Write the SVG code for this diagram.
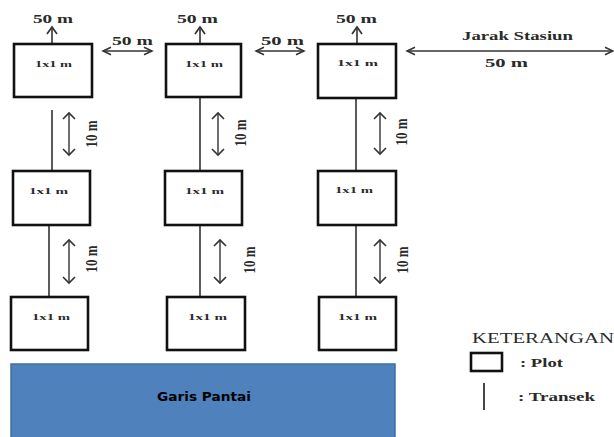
<svg xmlns="http://www.w3.org/2000/svg" width="614" height="437" viewBox="0 0 614 437">
<style>
.plot{fill:#fff;stroke:#111;stroke-width:2.6}
.lbl{font-family:"Liberation Serif",serif;font-size:9px;font-weight:bold;fill:#2a2a2a;text-anchor:start}
.dim{font-family:"Liberation Serif",serif;font-size:13px;font-weight:bold;fill:#2a2a2a}
.ln{stroke:#333;stroke-width:1.6;fill:none}
.arrh{stroke:#333;stroke-width:1.4;fill:none;marker-start:url(#ah);marker-end:url(#ah)}
.arrv{stroke:#333;stroke-width:1.4;fill:none;marker-start:url(#av);marker-end:url(#av)}
.arr1{stroke:#333;stroke-width:1.6;fill:none;marker-end:url(#au)}
.vt{font-family:"Liberation Serif",serif;font-size:13px;font-weight:bold;fill:#2a2a2a;text-anchor:middle}
</style>
<defs>
<marker id="ah" viewBox="-10 -6 12 12" refX="0" refY="0" markerWidth="12" markerHeight="12" markerUnits="userSpaceOnUse" orient="auto-start-reverse">
<path d="M-8,-3.8 L0,0 L-8,3.8" fill="none" stroke="#333" stroke-width="1.5"/>
</marker>
<marker id="av" viewBox="-8 -8 10 16" refX="0" refY="0" markerWidth="10" markerHeight="16" markerUnits="userSpaceOnUse" orient="auto-start-reverse">
<path d="M-6,-6 L0,0 L-6,6" fill="none" stroke="#333" stroke-width="1.6"/>
</marker>
<marker id="au" viewBox="-9 -7 11 14" refX="0" refY="0" markerWidth="11" markerHeight="14" markerUnits="userSpaceOnUse" orient="auto">
<path d="M-7,-5 L0,0 L-7,5" fill="none" stroke="#333" stroke-width="1.7"/>
</marker>
</defs>
<rect width="614" height="437" fill="#fff"/>

<g id="connectors">
<line class="arr1" x1="52" y1="44" x2="52" y2="27"/>
<line class="arr1" x1="200" y1="44" x2="200" y2="27"/>
<line class="arr1" x1="357" y1="44" x2="357" y2="27"/>
<line class="arrh" x1="103" y1="51" x2="152" y2="51"/>
<line class="arrh" x1="256" y1="51" x2="304" y2="51"/>
<line class="arrh" x1="407" y1="51" x2="613" y2="51"/>
<line class="ln" x1="52" y1="110" x2="52" y2="170"/>
<line class="ln" x1="49" y1="225" x2="49" y2="297"/>
<line class="ln" x1="200" y1="97" x2="200" y2="171"/>
<line class="ln" x1="200" y1="225" x2="200" y2="297"/>
<line class="ln" x1="356" y1="97" x2="356" y2="171"/>
<line class="ln" x1="356" y1="225" x2="356" y2="297"/>
<line class="arrv" x1="69" y1="113" x2="69" y2="155"/>
<line class="arrv" x1="69" y1="240" x2="69" y2="283"/>
<line class="arrv" x1="218" y1="113" x2="218" y2="155"/>
<line class="arrv" x1="220" y1="240" x2="220" y2="283"/>
<line class="arrv" x1="380" y1="113" x2="380" y2="154"/>
<line class="arrv" x1="380" y1="240" x2="380" y2="283"/>
</g>

<g id="dimension-labels">
<text class="dim" x="33" y="23" textLength="40" lengthAdjust="spacingAndGlyphs">50 m</text>
<text class="dim" x="177" y="23" textLength="41" lengthAdjust="spacingAndGlyphs">50 m</text>
<text class="dim" x="336" y="23" textLength="41" lengthAdjust="spacingAndGlyphs">50 m</text>
<text class="dim" x="112" y="45" textLength="41" lengthAdjust="spacingAndGlyphs">50 m</text>
<text class="dim" x="261" y="45" textLength="43" lengthAdjust="spacingAndGlyphs">50 m</text>
<text class="dim" x="462" y="40" textLength="111" lengthAdjust="spacingAndGlyphs">Jarak Stasiun</text>
<text class="dim" x="485" y="67" textLength="43" lengthAdjust="spacingAndGlyphs">50 m</text>
<text class="vt" transform="translate(97,134) rotate(-90) scale(1,1.35)">10 m</text>
<text class="vt" transform="translate(97,259) rotate(-90) scale(1,1.35)">10 m</text>
<text class="vt" transform="translate(246,133) rotate(-90) scale(1,1.35)">10 m</text>
<text class="vt" transform="translate(255,260) rotate(-90) scale(1,1.35)">10 m</text>
<text class="vt" transform="translate(407,132) rotate(-90) scale(1,1.35)">10 m</text>
<text class="vt" transform="translate(408,260) rotate(-90) scale(1,1.35)">10 m</text>
</g>

<g id="plot-1-1"><rect class="plot" x="14" y="44" width="78" height="53"/><text class="lbl" x="35" y="67" textLength="37" lengthAdjust="spacingAndGlyphs">1x1 m</text></g>
<g id="plot-2-1"><rect class="plot" x="166" y="44" width="75" height="53"/><text class="lbl" x="185" y="67" textLength="38" lengthAdjust="spacingAndGlyphs">1x1 m</text></g>
<g id="plot-3-1"><rect class="plot" x="318" y="44" width="78" height="54"/><text class="lbl" x="337" y="66" textLength="41" lengthAdjust="spacingAndGlyphs">1x1 m</text></g>
<g id="plot-1-2"><rect class="plot" x="13" y="171" width="77" height="54"/><text class="lbl" x="29" y="194" textLength="39" lengthAdjust="spacingAndGlyphs">1x1 m</text></g>
<g id="plot-2-2"><rect class="plot" x="165" y="171" width="77" height="54"/><text class="lbl" x="185" y="194" textLength="39" lengthAdjust="spacingAndGlyphs">1x1 m</text></g>
<g id="plot-3-2"><rect class="plot" x="318" y="171" width="78" height="54"/><text class="lbl" x="335" y="193" textLength="38" lengthAdjust="spacingAndGlyphs">1x1 m</text></g>
<g id="plot-1-3"><rect class="plot" x="11" y="297" width="77" height="53"/><text class="lbl" x="32" y="320" textLength="38" lengthAdjust="spacingAndGlyphs">1x1 m</text></g>
<g id="plot-2-3"><rect class="plot" x="167" y="297" width="78" height="53"/><text class="lbl" x="188" y="320" textLength="39" lengthAdjust="spacingAndGlyphs">1x1 m</text></g>
<g id="plot-3-3"><rect class="plot" x="319" y="297" width="77" height="53"/><text class="lbl" x="338" y="320" textLength="39" lengthAdjust="spacingAndGlyphs">1x1 m</text></g>

<g id="garis-pantai">
<rect x="11" y="364" width="384" height="80" fill="#4f81bd" stroke="#3f6fa3" stroke-width="1.5"/>
<text x="157" y="401" font-family="DejaVu Sans,sans-serif" font-size="12" font-weight="bold" fill="#000" textLength="94" lengthAdjust="spacingAndGlyphs">Garis Pantai</text>
</g>

<g id="legend">
<text x="472" y="343" font-family="Liberation Serif,serif" font-size="15" fill="#2a2a2a" textLength="142" lengthAdjust="spacingAndGlyphs">KETERANGAN</text>
<rect x="471" y="353" width="31" height="18" fill="#fff" stroke="#111" stroke-width="2.6"/>
<text class="dim" x="520" y="367" textLength="43" lengthAdjust="spacingAndGlyphs">: Plot</text>
<line x1="484" y1="383" x2="484" y2="410" stroke="#333" stroke-width="1.8"/>
<text class="dim" x="518" y="401" textLength="77" lengthAdjust="spacingAndGlyphs">: Transek</text>
</g>
</svg>
